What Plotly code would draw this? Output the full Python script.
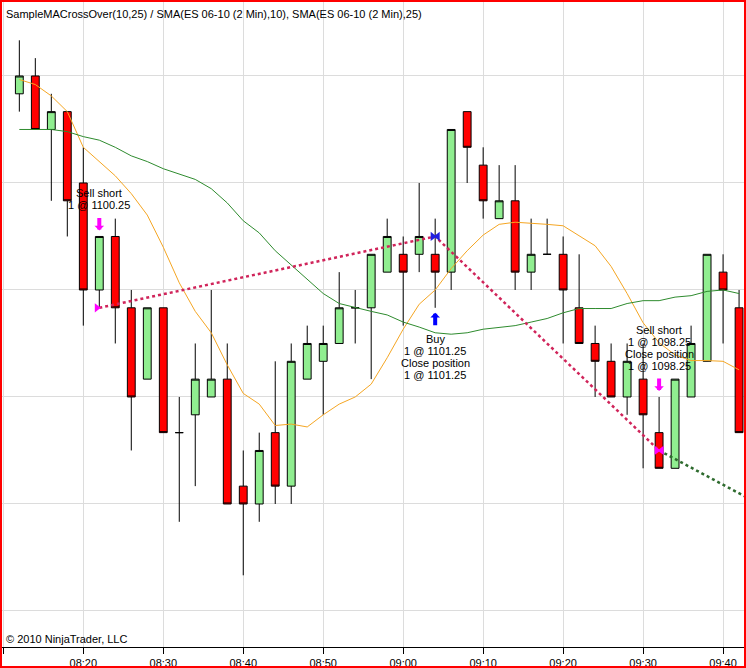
import pandas as pd
import plotly.graph_objects as go

DAY = "2010-05-07"
bar_times = pd.date_range(f"{DAY} 08:12", periods=46, freq="2min")

open_ = [1103.25, 1103.5, 1102.75, 1103.0, 1102.0, 1100.5, 1101.25, 1100.25, 1099.25, 1100.25,
         1098.5, 1098.75, 1099.0, 1099.25, 1097.75, 1097.5, 1098.5, 1097.75, 1099.25, 1099.5,
         1099.75, 1100.25, 1100.25, 1100.75, 1101.0, 1101.0, 1101.0, 1100.75, 1103.0, 1102.25,
         1101.5, 1101.75, 1100.75, 1101.0, 1101.0, 1100.25, 1099.75, 1099.5, 1099.0, 1099.25,
         1098.5, 1098.0, 1099.0, 1099.5, 1100.75, 1100.25]
high = [1104.0, 1103.75, 1103.25, 1103.0, 1102.5, 1101.25, 1101.5, 1100.5, 1100.25, 1100.25,
        1099.0, 1099.75, 1100.5, 1099.75, 1098.25, 1098.5, 1099.5, 1099.75, 1100.0, 1100.0,
        1100.75, 1100.5, 1101.0, 1101.5, 1101.25, 1102.0, 1101.5, 1102.75, 1103.0, 1102.5,
        1102.25, 1102.25, 1101.5, 1101.5, 1101.25, 1101.0, 1100.0, 1099.75, 1099.75, 1099.75,
        1099.0, 1099.25, 1100.0, 1101.0, 1101.0, 1100.5]
low = [1103.0, 1102.75, 1101.75, 1101.25, 1100.0, 1100.25, 1099.75, 1098.25, 1099.25, 1098.5,
       1097.25, 1097.75, 1099.0, 1097.5, 1096.5, 1097.25, 1097.5, 1097.5, 1099.25, 1098.75,
       1099.75, 1099.75, 1099.25, 1100.75, 1100.0, 1100.75, 1100.25, 1100.5, 1102.0, 1101.5,
       1101.5, 1100.5, 1100.5, 1101.0, 1099.75, 1099.75, 1099.0, 1099.0, 1098.75, 1098.0,
       1098.0, 1098.0, 1099.0, 1099.5, 1099.75, 1098.5]
close = [1103.5, 1102.75, 1103.0, 1101.75, 1100.5, 1101.25, 1100.25, 1099.0, 1100.25, 1098.5,
         1098.5, 1099.25, 1099.25, 1097.5, 1097.5, 1098.25, 1097.75, 1099.5, 1099.75, 1099.75,
         1100.25, 1100.25, 1101.0, 1101.25, 1100.75, 1101.25, 1100.75, 1102.75, 1102.5, 1101.75,
         1101.75, 1100.75, 1101.0, 1101.0, 1100.5, 1099.75, 1099.5, 1099.0, 1099.5, 1098.75,
         1098.0, 1099.25, 1099.75, 1101.0, 1100.5, 1098.5]

sma10 = [1103.45, 1103.38, 1103.22, 1103.0, 1102.5, 1102.3, 1102.1, 1101.85, 1101.55, 1101.1,
         1100.6, 1100.2, 1099.9, 1099.45, 1099.05, 1098.9, 1098.6, 1098.62, 1098.58, 1098.75,
         1098.9, 1099.0, 1099.18, 1099.55, 1099.95, 1100.3, 1100.5, 1100.8, 1101.05, 1101.27,
         1101.42, 1101.45, 1101.44, 1101.42, 1101.4, 1101.26, 1101.12, 1100.83, 1100.45, 1100.04,
         1099.76, 1099.59, 1099.51, 1099.51, 1099.5, 1099.38]
sma25 = [1102.75, 1102.75, 1102.75, 1102.72, 1102.65, 1102.6, 1102.5, 1102.38, 1102.3, 1102.2,
         1102.12, 1102.05, 1101.92, 1101.72, 1101.47, 1101.3, 1101.05, 1100.85, 1100.65, 1100.45,
         1100.31, 1100.25, 1100.2, 1100.15, 1100.05, 1099.98, 1099.9, 1099.88, 1099.9, 1099.95,
         1099.98, 1100.0, 1100.05, 1100.1, 1100.18, 1100.24, 1100.24, 1100.24, 1100.31, 1100.35,
         1100.35, 1100.4, 1100.42, 1100.48, 1100.5, 1100.45]

# executions: bar index, price
trade_bars = [5, 26, 40]
trade_prices = [1100.25, 1101.25, 1098.25]
open_end_time = f"{DAY} 09:44"
open_end_price = 1097.53

title_text = "SampleMACrossOver(10,25) / SMA(ES 06-10 (2 Min),10), SMA(ES 06-10 (2 Min),25)"
copyright_text = "© 2010 NinjaTrader, LLC"

signals = [
    dict(bar=5, side="above", color="#FF00FF", lines=["Sell short", "1 @ 1100.25"]),
    dict(bar=26, side="below", color="#0000FF",
         lines=["Buy", "1 @ 1101.25", "Close position", "1 @ 1101.25"]),
    dict(bar=40, side="above", color="#FF00FF",
         lines=["Sell short", "1 @ 1098.25", "Close position", "1 @ 1098.25"]),
]

# ---- style / geometry ----
SEC_PER_PX = 7.5  # 2-minute bar = 16 px
FONT = "Arial, Liberation Sans, sans-serif"
LOSS = "#D0245A"
WIN = "#2E6B2E"

fig = go.Figure()

fig.add_trace(go.Candlestick(
    x=bar_times, open=open_, high=high, low=low, close=close,
    increasing=dict(fillcolor="#90EE90", line=dict(color="black", width=1)),
    decreasing=dict(fillcolor="#FF0000", line=dict(color="black", width=1)),
    whiskerwidth=0, showlegend=False, hoverinfo="skip",
))

fig.add_trace(go.Scatter(x=bar_times, y=sma10, mode="lines",
                         line=dict(color="#F5A623", width=1), showlegend=False, hoverinfo="skip"))
fig.add_trace(go.Scatter(x=bar_times, y=sma25, mode="lines",
                         line=dict(color="#2E8B2E", width=1), showlegend=False, hoverinfo="skip"))

tx = [bar_times[i] for i in trade_bars]
fig.add_trace(go.Scatter(x=tx, y=trade_prices, mode="lines",
                         line=dict(color=LOSS, width=2.5, dash="dot"), showlegend=False, hoverinfo="skip"))
fig.add_trace(go.Scatter(x=[tx[-1], pd.Timestamp(open_end_time)], y=[trade_prices[-1], open_end_price],
                         mode="lines", line=dict(color=WIN, width=2.5, dash="dot"),
                         showlegend=False, hoverinfo="skip"))

# execution markers
off = pd.Timedelta(seconds=2.5 * SEC_PER_PX)
entry_colors = ["#FF00FF", "#2020E0", "#FF00FF"]
fig.add_trace(go.Scatter(x=[t - off for t in tx], y=trade_prices, mode="markers",
                         marker=dict(symbol="triangle-right", size=8, color=entry_colors, line=dict(width=0)),
                         showlegend=False, hoverinfo="skip"))
fig.add_trace(go.Scatter(x=[t + off for t in tx[1:]], y=trade_prices[1:], mode="markers",
                         marker=dict(symbol="triangle-left", size=8, color=entry_colors[1:], line=dict(width=0)),
                         showlegend=False, hoverinfo="skip"))

annotations = []
for s in signals:
    i = s["bar"]
    if s["side"] == "above":
        y = high[i]
        annotations.append(dict(x=bar_times[i], y=y, xref="x", yref="y", text="", showarrow=True,
                                ax=0, ay=-14, arrowhead=1, arrowsize=0.4, arrowwidth=4,
                                arrowcolor=s["color"], yshift=6, standoff=0))
        n = len(s["lines"])
        for k, line in enumerate(s["lines"]):
            annotations.append(dict(x=bar_times[i], y=y, xref="x", yref="y", text=line, showarrow=False,
                                    yshift=31 + 12 * (n - 1 - k), yanchor="middle", xanchor="center",
                                    font=dict(family=FONT, size=11, color="black")))
    else:
        y = low[i]
        annotations.append(dict(x=bar_times[i], y=y, xref="x", yref="y", text="", showarrow=True,
                                ax=0, ay=14, arrowhead=1, arrowsize=0.4, arrowwidth=4,
                                arrowcolor=s["color"], yshift=-5, standoff=0))
        for k, line in enumerate(s["lines"]):
            annotations.append(dict(x=bar_times[i], y=y, xref="x", yref="y", text=line, showarrow=False,
                                    yshift=-(31 + 12 * k), yanchor="middle", xanchor="center",
                                    font=dict(family=FONT, size=11, color="black")))

annotations.append(dict(x=0, y=1, xref="paper", yref="paper", text=title_text, showarrow=False,
                        xanchor="left", yanchor="top", xshift=2, yshift=-4,
                        font=dict(family=FONT, size=11, color="black")))
annotations.append(dict(x=0, y=0, xref="paper", yref="paper", text=copyright_text, showarrow=False,
                        xanchor="left", yanchor="bottom", xshift=2, yshift=0,
                        font=dict(family=FONT, size=11, color="black")))

W, H = 746, 668
ml, mr, mt, mb = 2, 2, 2, 21
pw, ph = W - ml - mr, H - mt - mb

fig.update_layout(
    width=W, height=H,
    margin=dict(l=ml, r=mr, t=mt, b=mb, pad=0, autoexpand=False),
    paper_bgcolor="white", plot_bgcolor="white",
    showlegend=False,
    annotations=annotations,
    shapes=[dict(type="rect", xref="paper", yref="paper",
                 x0=-ml / pw, x1=1 + mr / pw, y0=-mb / ph, y1=1 + mt / ph,
                 line=dict(color="#FF0000", width=4), fillcolor="rgba(0,0,0,0)", layer="above")],
    xaxis=dict(
        type="date",
        range=[f"{DAY} 08:09:50", f"{DAY} 09:42:37"],
        rangeslider=dict(visible=False),
        tickformat="%H:%M", dtick=600000, tick0=f"{DAY} 08:20",
        showgrid=True, gridcolor="#DCDCDC", gridwidth=1,
        showline=True, linecolor="black", linewidth=1,
        ticks="outside", ticklen=6, tickcolor="black", tickwidth=1,
        tickfont=dict(family=FONT, size=11, color="black"),
        zeroline=False, fixedrange=True,
    ),
    yaxis=dict(
        range=[1095.495, 1104.537],
        dtick=1.5, tick0=1096.0,
        showgrid=True, gridcolor="#DCDCDC", gridwidth=1,
        showticklabels=False, ticks="", showline=False, zeroline=False, fixedrange=True,
    ),
)

fig.write_html("out.html",
               config={"displayModeBar": False},
               post_script="document.body.style.margin='0';document.body.style.padding='0';"
                           "document.body.style.overflow='hidden';")
